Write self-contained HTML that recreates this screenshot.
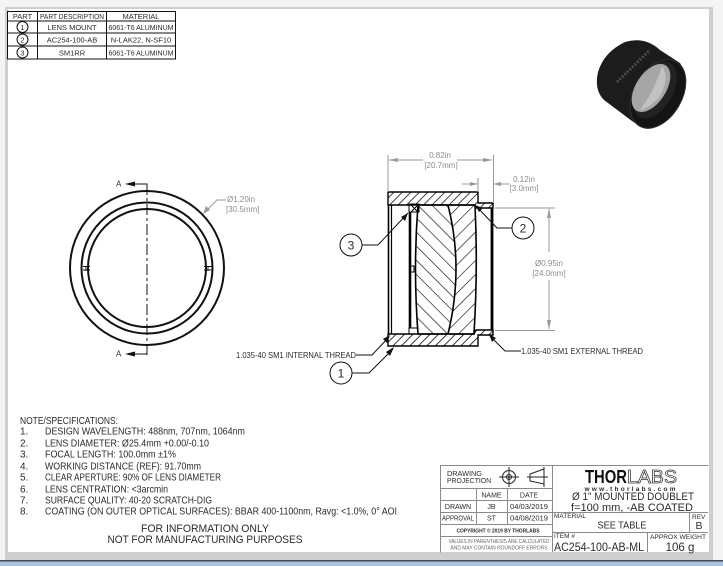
<!DOCTYPE html>
<html><head><meta charset="utf-8"><style>
html,body{margin:0;padding:0;background:#fff}
svg{display:block}
text{font-family:"Liberation Sans",sans-serif;fill:#2b2b2b}
.g{fill:#8d8d8d;font-size:8px}
.m{text-anchor:middle}
.d{stroke:#9a9a9a;fill:none;stroke-width:1}
</style></head><body>
<svg width="723" height="566" viewBox="0 0 723 566" xmlns="http://www.w3.org/2000/svg">
<defs>
<pattern id="h1" width="6" height="6" patternUnits="userSpaceOnUse" patternTransform="rotate(45)"><line x1="0" y1="0" x2="0" y2="6" stroke="#000" stroke-width="1.5"/></pattern>
<pattern id="h2" width="10" height="10" patternUnits="userSpaceOnUse" patternTransform="rotate(-45)"><line x1="0" y1="0" x2="0" y2="10" stroke="#111" stroke-width="1.3"/></pattern>
<pattern id="h3" width="10" height="10" patternUnits="userSpaceOnUse" patternTransform="rotate(45)"><line x1="0" y1="0" x2="0" y2="10" stroke="#111" stroke-width="1.3"/></pattern>
</defs>
<!-- window chrome -->
<rect width="723" height="566" fill="#f4f4f4"/>
<rect x="5" y="7" width="708" height="553" fill="#cfcfcf"/>
<rect x="8" y="9" width="701" height="543" fill="#fff"/>
<rect x="0" y="560" width="723" height="1.5" fill="#3c4a5c"/>
<rect x="0" y="561.5" width="723" height="4.5" fill="#a9c3e3"/>

<!-- parts table -->
<g stroke="#111" stroke-width="1" fill="none">
<rect x="7.5" y="11.5" width="168" height="47.5"/>
<line x1="7.5" y1="21" x2="175.5" y2="21"/><line x1="7.5" y1="33" x2="175.5" y2="33"/><line x1="7.5" y1="46" x2="175.5" y2="46"/>
<line x1="37.5" y1="11.5" x2="37.5" y2="59"/><line x1="106.5" y1="11.5" x2="106.5" y2="59"/>
<circle cx="22.5" cy="27" r="5.5"/><circle cx="22.5" cy="39.5" r="5.5"/><circle cx="22.5" cy="52.5" r="5.5"/>
</g>
<g font-size="7.5">
<text x="22.5" y="19" class="m">PART</text><text x="72" y="19" class="m" textLength="64" lengthAdjust="spacingAndGlyphs">PART DESCRIPTION</text><text x="141" y="19" class="m">MATERIAL</text>
<text x="22.5" y="30" class="m">1</text><text x="72" y="30" class="m">LENS MOUNT</text><text x="141" y="30" class="m" textLength="65" lengthAdjust="spacingAndGlyphs">6061-T6 ALUMINUM</text>
<text x="22.5" y="42.5" class="m">2</text><text x="72" y="42.5" class="m">AC254-100-AB</text><text x="141" y="42.5" class="m">N-LAK22, N-SF10</text>
<text x="22.5" y="55.5" class="m">3</text><text x="72" y="55.5" class="m">SM1RR</text><text x="141" y="55.5" class="m" textLength="65" lengthAdjust="spacingAndGlyphs">6061-T6 ALUMINUM</text>
</g>

<!-- 3D photo -->
<g>
<path d="M625 42 Q645 36 660 50 L680 63 Q688 75 684 92 Q676 122 650 128 Q642 129 628 118 L604 100 Q594 90 598 72 Q604 52 625 42Z" fill="#1c1c1c"/>
<ellipse cx="658" cy="94" rx="24" ry="37" transform="rotate(30 658 94)" fill="#141414" stroke="#303030" stroke-width="1"/>
<ellipse cx="655" cy="90" rx="18" ry="31" transform="rotate(30 655 90)" fill="#222"/>
<ellipse cx="651" cy="88" rx="15" ry="27" transform="rotate(33 651 88)" fill="#a6a6a6"/>
<path d="M662 66 Q670 78 660 96 Q650 108 640 110 Q654 92 662 66Z" fill="#c2c2c2"/>
<path d="M617 82 L650 50" stroke="#4a4a4a" stroke-width="3" stroke-dasharray="2 1.5" fill="none"/>
</g>

<!-- front view -->
<g stroke="#111" fill="none" stroke-width="2">
<circle cx="147" cy="268" r="77"/><circle cx="147" cy="268" r="65.5"/><circle cx="147" cy="268" r="59"/>
</g>
<g stroke="#111" stroke-width="0.9" fill="none">
<path d="M83 266.500 H90 M83 270 H90 M86 266 V271 M204 266.500 H212 M204 270 H212 M208 266 V271"/>
<path d="M147 184 V355" stroke-dasharray="11 3 3 3" stroke-width="1"/>
<path d="M127 184 H147 V193"/><path d="M127 354 H147 V345"/>
</g>
<path d="M125 184 L135 181.500 V186.500Z M125 354 L135 351.500 V356.500Z" fill="#111"/>
<text x="116" y="186.500" font-size="8">A</text><text x="116" y="356.500" font-size="8">A</text>
<path class="d" d="M204 213 L217 200 H226"/><path d="M203 214 L206 206 L210 210Z" fill="#9a9a9a"/>
<text x="227" y="202" class="g">Ø1.20in</text><text x="226" y="212" class="g">[30.5mm]</text>

<!-- section: lenses -->
<path d="M418 205 Q413 268 418 334 H448 Q464 268 448 205Z" fill="url(#h2)"/>
<path d="M448 205 Q464 268 448 334 H474 Q478 268 475 205Z" fill="url(#h3)"/>
<path d="M418 205 Q413 268 418 334 H474 Q478 268 475 205Z M448 205 Q464 268 448 334" fill="none" stroke="#000" stroke-width="1.6"/>
<!-- mount -->
<path d="M388 192 H478 V203 H493 V208 H476 L475 205 H388Z" fill="url(#h1)" stroke="#000" stroke-width="1.4"/>
<path d="M388 334 H474 L476 330 H493 V335 H478 V346 H388Z" fill="url(#h1)" stroke="#000" stroke-width="1.4"/>
<g stroke="#000" fill="none">
<line x1="388.500" y1="205" x2="388.500" y2="334" stroke-width="1.600"/>
<line x1="391.500" y1="205" x2="391.500" y2="334" stroke-width="1.200"/>
<line x1="410" y1="212" x2="410" y2="328" stroke-width="2.600"/>
<line x1="492" y1="208" x2="492" y2="330" stroke-width="2.800"/>
<path d="M409 204 H419 V212 H409Z M411 205 L418 212 M418 205 L411 212" stroke-width="1"/>
<path d="M409 328 H418 V334 H409Z" stroke-width="1"/>
<path d="M410 266 H414 V272 H410" stroke-width="1"/>
</g>

<!-- dimensions -->
<g class="d">
<path d="M388 155 V192 M493.500 155 V203"/>
<path d="M389 160 H423 M457 160 H492"/>
<path d="M478 178 V192 M462 184 H478 M493 184 H510"/>
<path d="M495 208 H555 M495 330.500 H555"/>
<path d="M549 209 V252 M549 280 V329"/>
</g>
<path d="M388 160 L398 158 V162Z M493 160 L483 158 V162Z M478 184 L470 182 V186Z M493 184 L501 182 V186Z M549 208 L547 218 H551Z M549 330 L547 320 H551Z" fill="#9a9a9a"/>
<text x="440" y="158" class="g m">0.82in</text><text x="441" y="168" class="g m">[20.7mm]</text>
<text x="524" y="182" class="g m">0.12in</text><text x="524" y="191" class="g m">[3.0mm]</text>
<text x="549" y="266" class="g m">Ø0.95in</text><text x="549" y="276" class="g m">[24.0mm]</text>

<!-- balloons & leaders -->
<g stroke="#111" fill="none" stroke-width="1">
<circle cx="351" cy="245" r="11"/><circle cx="523" cy="228" r="11"/><circle cx="341" cy="373" r="11"/>
<path d="M362 245 H378 L408 213"/>
<path d="M512 228 H497 L476 206"/>
<path d="M352 373 H369 L393 349"/>
<path d="M356 355 H372 L389 337"/>
<path d="M521 351 H505 L490 336"/>
</g>
<path d="M408 213 L401 217 L405 221Z M475 205 L479 212 L483 208Z M394 347 L386 352 L390 356Z M390 335 L383 339 L387 343Z M489 334 L492 342 L496 338Z" fill="#111"/>
<text x="351" y="249.500" font-size="12" class="m">3</text><text x="523" y="232.500" font-size="12" class="m">2</text><text x="341" y="377.500" font-size="12" class="m">1</text>
<text x="236" y="358" font-size="8" textLength="120" lengthAdjust="spacingAndGlyphs">1.035-40 SM1 INTERNAL THREAD</text>
<text x="521" y="354" font-size="8" textLength="122" lengthAdjust="spacingAndGlyphs">1.035-40 SM1 EXTERNAL THREAD</text>

<!-- notes -->
<g font-size="10">
<text x="20" y="424" textLength="98" lengthAdjust="spacingAndGlyphs">NOTE/SPECIFICATIONS:</text>
<text x="20" y="434.500">1.</text><text x="45" y="434.500" textLength="200" lengthAdjust="spacingAndGlyphs">DESIGN WAVELENGTH: 488nm, 707nm, 1064nm</text>
<text x="20" y="446.500">2.</text><text x="45" y="446.500" textLength="164" lengthAdjust="spacingAndGlyphs">LENS DIAMETER: Ø25.4mm +0.00/-0.10</text>
<text x="20" y="457.500">3.</text><text x="45" y="457.500" textLength="131" lengthAdjust="spacingAndGlyphs">FOCAL LENGTH: 100.0mm ±1%</text>
<text x="20" y="469.500">4.</text><text x="45" y="469.500" textLength="156" lengthAdjust="spacingAndGlyphs">WORKING DISTANCE (REF): 91.70mm</text>
<text x="20" y="480.500">5.</text><text x="45" y="480.500" textLength="176" lengthAdjust="spacingAndGlyphs">CLEAR APERTURE: 90% OF LENS DIAMETER</text>
<text x="20" y="492.500">6.</text><text x="45" y="492.500" textLength="123" lengthAdjust="spacingAndGlyphs">LENS CENTRATION: &lt;3arcmin</text>
<text x="20" y="503.500">7.</text><text x="45" y="503.500" textLength="167" lengthAdjust="spacingAndGlyphs">SURFACE QUALITY: 40-20 SCRATCH-DIG</text>
<text x="20" y="514.500">8.</text><text x="45" y="514.500" textLength="352" lengthAdjust="spacingAndGlyphs">COATING (ON OUTER OPTICAL SURFACES): BBAR 400-1100nm, Ravg: &lt;1.0%, 0° AOI</text>
</g>
<text x="205" y="532" font-size="11" class="m" textLength="128" lengthAdjust="spacingAndGlyphs">FOR INFORMATION ONLY</text>
<text x="205" y="543" font-size="11" class="m" textLength="195" lengthAdjust="spacingAndGlyphs">NOT FOR MANUFACTURING PURPOSES</text>

<!-- title block -->
<g stroke="#8a8a8a" fill="none" stroke-width="1">
<path d="M708.500 465.500 H440.500 V552.500"/>
<line x1="552.500" y1="465.500" x2="552.500" y2="552"/>
<path d="M440 488.500 H552 M440 500.500 H552 M440 512.500 H552 M440 524.500 H552 M440 536.500 H552"/>
<path d="M476.500 488 V524 M507.500 488 V524"/>
<path d="M552 512.500 H708 M552 532.500 H708"/>
<path d="M689.500 512 V532 M647.500 532 V552"/>
</g>
<text x="447" y="476" font-size="7.500" textLength="35" lengthAdjust="spacingAndGlyphs">DRAWING</text>
<text x="447" y="483" font-size="7.500" textLength="44" lengthAdjust="spacingAndGlyphs">PROJECTION</text>
<g stroke="#222" fill="none" stroke-width="1">
<circle cx="509" cy="477" r="6.500"/><circle cx="509" cy="477" r="2.500"/><path d="M499 477 H519 M509 467 V487"/>
<path d="M530 474 L544 469 V484 L530 481Z M527 477 H548 M544 467 V487" stroke-dasharray="none"/>
</g>
<circle cx="509" cy="477" r="1" fill="#222"/>
<g font-size="7">
<text x="491.500" y="497.500" class="m">NAME</text><text x="529" y="497.500" class="m">DATE</text>
<text x="458" y="509" class="m">DRAWN</text><text x="491.500" y="509" class="m">JB</text><text x="529" y="509" class="m" textLength="38" lengthAdjust="spacingAndGlyphs">04/03/2019</text>
<text x="458" y="520.500" class="m" textLength="32" lengthAdjust="spacingAndGlyphs">APPROVAL</text><text x="491.500" y="520.500" class="m">ST</text><text x="529" y="520.500" class="m" textLength="38" lengthAdjust="spacingAndGlyphs">04/08/2019</text>
</g>
<text x="498" y="532.500" font-size="5.500" font-weight="bold" class="m" textLength="83" lengthAdjust="spacingAndGlyphs">COPYRIGHT © 2019 BY THORLABS</text>
<text x="499" y="543" font-size="5.500" class="m" textLength="101" lengthAdjust="spacingAndGlyphs" style="fill:#666">VALUES IN PARENTHESIS ARE CALCULATED</text>
<text x="499" y="549.500" font-size="5.500" class="m" textLength="97" lengthAdjust="spacingAndGlyphs" style="fill:#666">AND MAY CONTAIN ROUNDOFF ERRORS</text>
<text x="585" y="483" font-size="18" font-weight="bold" textLength="42" lengthAdjust="spacingAndGlyphs" style="fill:#111">THOR</text>
<text x="627" y="483" font-size="18" textLength="50" lengthAdjust="spacingAndGlyphs" style="fill:#fff;stroke:#333;stroke-width:.7">LABS</text>
<text x="630" y="491" font-size="6.500" font-weight="bold" class="m" textLength="91" lengthAdjust="spacing">www.thorlabs.com</text>
<text x="633" y="500" font-size="11" class="m" textLength="122" lengthAdjust="spacingAndGlyphs">Ø 1" MOUNTED DOUBLET</text>
<text x="632" y="511" font-size="11" class="m" textLength="122" lengthAdjust="spacingAndGlyphs">f=100 mm, -AB COATED</text>
<text x="554" y="518" font-size="6.500">MATERIAL</text><text x="692" y="519" font-size="6.500">REV</text>
<text x="622" y="528.500" font-size="10.500" class="m" textLength="49" lengthAdjust="spacingAndGlyphs">SEE TABLE</text>
<text x="699" y="529" font-size="10.500" class="m">B</text>
<text x="554" y="538" font-size="6.500">ITEM #</text>
<text x="650" y="539" font-size="6.500" textLength="56" lengthAdjust="spacingAndGlyphs">APPROX WEIGHT</text>
<text x="554" y="551" font-size="11.500" textLength="90" lengthAdjust="spacingAndGlyphs">AC254-100-AB-ML</text>
<text x="680" y="551" font-size="11.500" class="m">106 g</text>
</svg>
</body></html>
